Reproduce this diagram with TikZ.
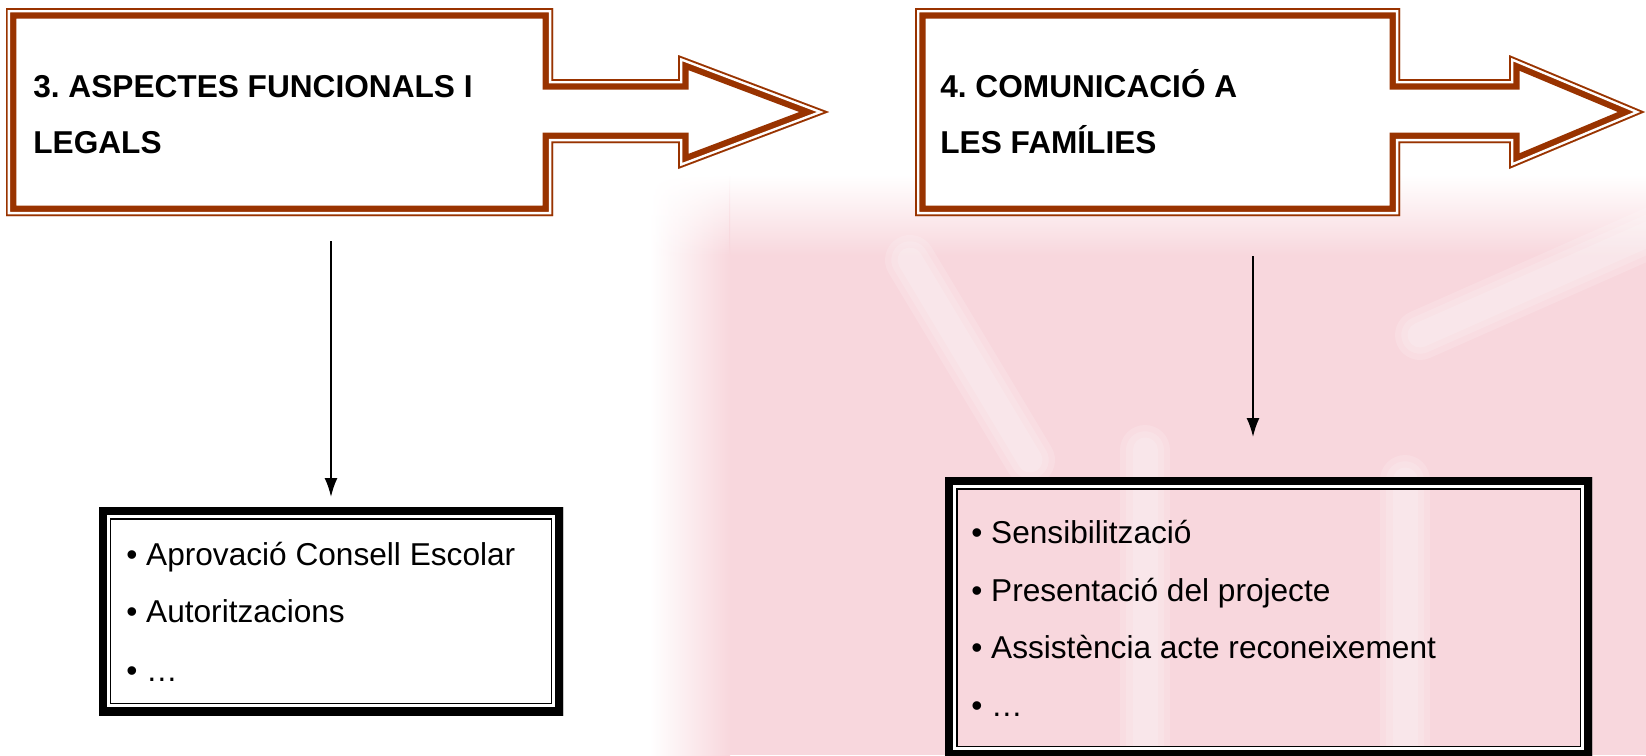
\documentclass[tikz,border=0pt]{standalone}
\usepackage{fontspec}
\setmainfont{Liberation Sans}
\usetikzlibrary{arrows.meta,fadings}
\definecolor{marro}{RGB}{153,51,0}
\definecolor{rosa}{RGB}{248,215,221}

\tikzset{
  titol/.style={anchor=base west, inner sep=0pt, font=\fontsize{18}{21.6}\selectfont\bfseries},
  item/.style={anchor=base west, inner sep=0pt, font=\fontsize{18}{21.6}\selectfont},
  fletxa/.style={-{Latex[length=0.38cm,width=0.26cm]}, line width=1.1pt},
  clar/.style={white, opacity=0.16, line cap=round},
}

% vora doble marro (fina per fora, gruixuda per dins)
\newcommand{\marcfletxa}[1]{%
  \begin{scope}
    \clip #1;
    \fill[white] #1;
    \draw[marro, line width=0.42cm] #1;
    \draw[white, line width=0.17cm] #1;
    \draw[marro, line width=0.07cm] #1;
  \end{scope}}
% vora doble negra (gruixuda per fora, fina per dins)
\newcommand{\marcllista}[1]{%
  \begin{scope}
    \clip #1;
    \draw[black, line width=0.50cm] #1;
    \draw[white, line width=0.44cm] #1;
    \draw[black, line width=0.32cm] #1;
  \end{scope}}

\begin{document}
\frenchspacing
\begin{tikzpicture}[x=0.02cm, y=-0.02cm]
  \useasboundingbox (0,0) rectangle (1646,755);

  % fons (marca d'aigua)
  \fill[rosa] (729.5,254.5) rectangle (1646,755);
  \shade[top color=white, bottom color=rosa] (729.5,175) rectangle (1646,255);
  \shade[left color=white, right color=rosa] (650,254.5) rectangle (730,755);
  \shade[left color=white, right color=rosa, path fading=north] (650,175) rectangle (730,255);
  \begin{scope}
    \clip (700,200) rectangle (1646,755);
    \foreach \w in {1.0,0.75,0.5} {
      \draw[clar, line width=\w cm] (1145,450) -- (1145,780);
      \draw[clar, line width=\w cm] (1405,480) -- (1405,780);
      \draw[clar, line width=\w cm] (910,260) -- (1030,460);
      \draw[clar, line width=\w cm] (1680,220) -- (1420,335);
    }
  \end{scope}

  % caixes amb fletxa
  \marcfletxa{(6,8) -- (553,8) -- (553,79) -- (678,79) -- (678,55) -- (829,112) -- (678,169) -- (678,143) -- (553,143) -- (553,216) -- (6,216) -- cycle}
  \marcfletxa{(915,8) -- (1400,8) -- (1400,79) -- (1509,79) -- (1509,55) -- (1645,112) -- (1509,169) -- (1509,143) -- (1400,143) -- (1400,216) -- (915,216) -- cycle}

  \node[titol] (t3a) at (33,97) {3. ASPECTES FUNCIONALS I};
  \node[titol] (t3b) at (33,153) {LEGALS};
  \node[titol] (t4a) at (940,97) {4. COMUNICACIÓ A};
  \node[titol] (t4b) at (940,153) {LES FAMÍLIES};

  % llistes
  \marcllista{(99,507) rectangle (563,715)}
  \marcllista{(945,477) rectangle (1592,758)}

  \node[item] (l3a) at (126,565) {• Aprovació Consell Escolar};
  \node[item] (l3b) at (126,622) {• Autoritzacions};
  \node[item] (l3c) at (126,681) {• …};

  \node[item] (l4a) at (971,543) {• Sensibilització};
  \node[item] (l4b) at (971,601) {• Presentació del projecte};
  \node[item] (l4c) at (971,658) {• Assistència acte reconeixement};
  \node[item] (l4d) at (971,716) {• …};

  % fletxes verticals
  \coordinate (f3a) at (331,241);
  \coordinate (f3b) at (331,497);
  \coordinate (f4a) at (1253,256);
  \coordinate (f4b) at (1253,437);
  \draw[fletxa] (f3a) -- (f3b);
  \draw[fletxa] (f4a) -- (f4b);
\end{tikzpicture}
\end{document}
